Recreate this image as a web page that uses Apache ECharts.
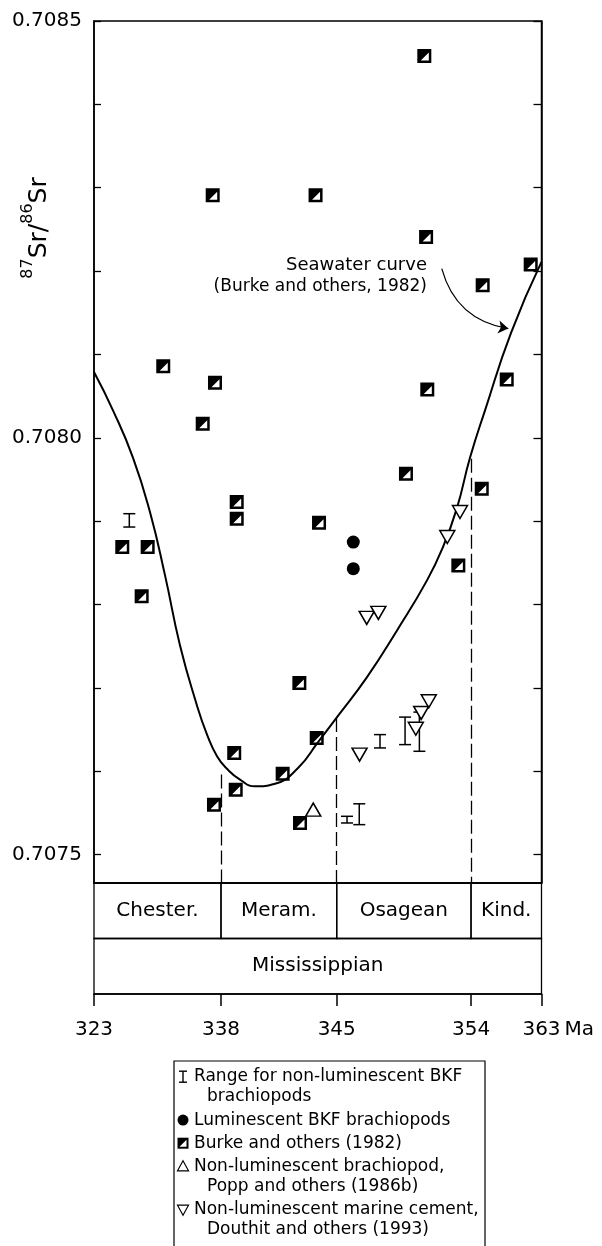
<!DOCTYPE html>
<html>
<head>
<meta charset="utf-8">
<script src="https://cdn.jsdelivr.net/npm/echarts@6/dist/echarts.min.js"></script>
<style>
  html, body { margin: 0; padding: 0; background: #fff; }
  #chart { width: 602px; height: 1246px; }
</style>
</head>
<body>
<div id="chart"></div>
<script>
// stage boundaries (Ma) and where they sit along the axis, 0..100 (the figure is not to scale)
const stageEdges = [323, 338, 345, 354, 363]
const stagePos = [0, 28.38, 54.24, 84.25, 100]
const stageNames = ['Chester.', 'Meram.', 'Osagean', 'Kind.']
const periodName = 'Mississippian'

const yTicks = [0.7075, 0.7076, 0.7077, 0.7078, 0.7079, 0.7080, 0.7081, 0.7082, 0.7083, 0.7084, 0.7085]
const yLabels = [0.7075, 0.7080, 0.7085]
const yMin = 0.707466
const yMax = 0.7085

// [age Ma, 87Sr/86Sr]
const seawaterCurve = [
  [323.0, 0.708079], [325.24, 0.708033], [327.61, 0.707976], [329.61, 0.707911],
  [331.39, 0.707835], [333.16, 0.707751], [335.16, 0.707679], [336.35, 0.707644],
  [337.53, 0.707618], [338.36, 0.707603], [339.15, 0.707590], [340.06, 0.707582],
  [341.27, 0.707585], [342.66, 0.707604], [343.87, 0.707635], [345.02, 0.707665],
  [347.03, 0.707713], [349.04, 0.707769], [351.05, 0.707829], [352.12, 0.707869],
  [353.06, 0.707916], [353.93, 0.707976], [355.79, 0.708033], [359.11, 0.708126],
  [363.0, 0.708211]
]

const burke = [
  [350.87, 0.708458], [337.02, 0.708291], [343.72, 0.708291], [350.99, 0.708241],
  [361.62, 0.708208], [355.49, 0.708183], [331.18, 0.708086], [337.29, 0.708066],
  [358.56, 0.708070], [351.07, 0.708058], [335.84, 0.708017], [349.64, 0.707957],
  [355.37, 0.707939], [338.95, 0.707923], [338.95, 0.707903], [343.93, 0.707898],
  [326.34, 0.707869], [329.34, 0.707869], [353.15, 0.707847], [328.63, 0.707810],
  [342.74, 0.707706], [343.79, 0.707640], [338.80, 0.707622], [341.73, 0.707597],
  [338.89, 0.707578], [337.17, 0.707560], [342.78, 0.707538]
]

const luminescent = [[346.11, 0.707875], [346.11, 0.707843]]

const popp = [[343.58, 0.707554]]

const douthit = [
  [347.01, 0.707784], [347.79, 0.707790], [346.53, 0.707620], [351.17, 0.707684],
  [350.66, 0.707670], [350.30, 0.707651], [353.26, 0.707911], [352.41, 0.707881]
]

// [age Ma, low, high]
const bkfRanges = [
  [347.90, 0.707628, 0.707644], [349.58, 0.707632, 0.707665], [350.54, 0.707624, 0.707671],
  [346.51, 0.707536, 0.707561], [345.69, 0.707538, 0.707546], [327.17, 0.707893, 0.707909]
]

const boundaryAge = [338, 345, 354]
const boundaryTop = [0.707596, 0.707664, 0.707975]

const arrowFrom = [352.04, 0.708203]
const arrowTo = [358.76, 0.708131]

function toAxis(ma) {
  let i = 0
  while (i < stageEdges.length - 2 && ma > stageEdges[i + 1]) i++
  const t = (ma - stageEdges[i]) / (stageEdges[i + 1] - stageEdges[i])
  return stagePos[i] + t * (stagePos[i + 1] - stagePos[i])
}
const pt = p => [toAxis(p[0]), p[1]]

const font = 'DejaVu Sans'
const halfSquare = 'path://M0 0L14 0L14 14L0 14Z M11.5 3.5L3.5 11.5L11.5 11.5Z'
const downTri = 'path://M0 0L14 0L7 12Z'
const upTri = 'path://M7 0L14 12L0 12Z'

// stage table cells: [start, end, row]
const cells = stageNames.map((n, i) => ({ name: n, value: [stagePos[i], stagePos[i + 1], 1] }))
cells.push({ name: periodName, value: [0, 100, 0] })

// legend drawn by hand so the icon sits on the first line of each entry
const legendItems = [
  { icon: 'range', lines: ['Range for non-luminescent BKF', 'brachiopods'] },
  { icon: 'circle', lines: ['Luminescent BKF brachiopods'] },
  { icon: 'burke', lines: ['Burke and others (1982)'] },
  { icon: 'up', lines: ['Non-luminescent brachiopod,', 'Popp and others (1986b)'] },
  { icon: 'down', lines: ['Non-luminescent marine cement,', 'Douthit and others (1993)'] }
]

function legendGraphic() {
  const left = 174, top = 1061, right = 485
  const iconX = 183, textX = 194, indentX = 207
  const lineH = 20.3
  const stroke = { stroke: '#000', lineWidth: 1.4 }
  const children = [{
    type: 'rect', shape: { x: left, y: top, width: right - left, height: 200 },
    style: { fill: '#fff', stroke: '#000', lineWidth: 1.2 }
  }]
  let y = 1076.7
  legendItems.forEach(item => {
    const s = 5.5
    if (item.icon === 'range') {
      children.push(
        { type: 'line', shape: { x1: iconX, y1: y - s, x2: iconX, y2: y + s }, style: stroke },
        { type: 'line', shape: { x1: iconX - 4, y1: y - s, x2: iconX + 4, y2: y - s }, style: stroke },
        { type: 'line', shape: { x1: iconX - 4, y1: y + s, x2: iconX + 4, y2: y + s }, style: stroke }
      )
    } else if (item.icon === 'circle') {
      children.push({ type: 'circle', shape: { cx: iconX, cy: y, r: s }, style: { fill: '#000' } })
    } else if (item.icon === 'burke') {
      children.push(
        { type: 'rect', shape: { x: iconX - s, y: y - s, width: 2 * s, height: 2 * s }, style: { fill: '#000' } },
        { type: 'polygon', shape: { points: [[iconX + s - 2, y - s + 2], [iconX - s + 2, y + s - 2], [iconX + s - 2, y + s - 2]] }, style: { fill: '#fff' } }
      )
    } else if (item.icon === 'up') {
      children.push({ type: 'polygon', shape: { points: [[iconX, y - s], [iconX + s, y + s - 1], [iconX - s, y + s - 1]] }, style: { fill: '#fff', stroke: '#000', lineWidth: 1.2 } })
    } else {
      children.push({ type: 'polygon', shape: { points: [[iconX - s, y - s + 1], [iconX + s, y - s + 1], [iconX, y + s]] }, style: { fill: '#fff', stroke: '#000', lineWidth: 1.2 } })
    }
    item.lines.forEach((ln, k) => {
      children.push({
        type: 'text', x: k === 0 ? textX : indentX, y: y + k * lineH,
        style: { text: ln, fontFamily: font, fontSize: 17, fill: '#000', verticalAlign: 'middle' }
      })
    })
    y += item.lines.length * lineH + 2.8
  })
  return { type: 'group', children }
}

const chart = echarts.init(document.getElementById('chart'))
chart.setOption({
  animation: false,
  backgroundColor: '#fff',
  grid: [
    { left: 94, right: 60.5, top: 21, bottom: 363, show: true, borderColor: '#000', borderWidth: 1.5 },
    { left: 94, right: 60.5, top: 883, bottom: 252 }
  ],
  xAxis: [
    {
      type: 'value', gridIndex: 0, min: 0, max: 100,
      axisLine: { lineStyle: { color: '#000', width: 1.5 } },
      axisTick: { show: false }, axisLabel: { show: false }, splitLine: { show: false }
    },
    {
      type: 'value', gridIndex: 1, min: 0, max: 100,
      axisLine: { lineStyle: { color: '#000', width: 1.5 } },
      axisTick: { customValues: stagePos, length: 12, lineStyle: { color: '#000', width: 1.5 } },
      axisLabel: {
        customValues: stagePos, margin: 26, color: '#000', fontFamily: font, fontSize: 20,
        formatter: v => String(stageEdges[stagePos.indexOf(v)])
      },
      splitLine: { show: false },
      name: 'Ma', nameLocation: 'end', nameGap: 21,
      nameTextStyle: { color: '#000', fontFamily: font, fontSize: 20, verticalAlign: 'top', padding: [26, 0, 0, 0] }
    }
  ],
  yAxis: [
    {
      type: 'value', gridIndex: 0, position: 'left', min: yMin, max: yMax,
      axisLine: { show: true, lineStyle: { color: '#000', width: 1.5 } },
      axisTick: { inside: true, length: 7, customValues: yTicks, lineStyle: { color: '#000', width: 1.3 } },
      axisLabel: {
        customValues: yLabels, margin: 12, color: '#000', fontFamily: font, fontSize: 20,
        formatter: v => v.toFixed(4)
      },
      splitLine: { show: false }
    },
    {
      type: 'value', gridIndex: 0, position: 'right', min: yMin, max: yMax,
      axisLine: { show: true, lineStyle: { color: '#000', width: 1.5 } },
      axisTick: { inside: true, length: 8, customValues: yTicks, lineStyle: { color: '#000', width: 1.3 } },
      axisLabel: { show: false },
      splitLine: { show: false }
    },
    { type: 'value', gridIndex: 1, min: 0, max: 2, show: false }
  ],
  series: [
    {
      name: 'Seawater curve', type: 'line', xAxisIndex: 0, yAxisIndex: 0,
      data: seawaterCurve.map(pt), smooth: 0.5, showSymbol: false,
      lineStyle: { color: '#000', width: 2 }, z: 2
    },
    {
      type: 'lines', coordinateSystem: 'cartesian2d', xAxisIndex: 0, yAxisIndex: 0,
      data: boundaryAge.map((a, i) => ({ coords: [[toAxis(a), boundaryTop[i]], [toAxis(a), yMin]] })),
      lineStyle: { color: '#000', width: 1.3, type: [14, 5], opacity: 1 }, symbol: 'none', z: 1
    },
    {
      type: 'lines', coordinateSystem: 'cartesian2d', xAxisIndex: 0, yAxisIndex: 0,
      data: [{ coords: [pt(arrowFrom), pt(arrowTo)] }],
      lineStyle: { color: '#000', width: 1.2, curveness: -0.32, opacity: 1 },
      symbol: ['none', 'arrow'], symbolSize: 10, z: 3
    },
    {
      name: 'Range for non-luminescent BKF brachiopods', type: 'custom', xAxisIndex: 0, yAxisIndex: 0,
      data: bkfRanges.map(r => [toAxis(r[0]), r[1], r[2]]),
      encode: { x: 0, y: [1, 2] },
      renderItem: (params, api) => {
        const hi = api.coord([api.value(0), api.value(2)])
        const lo = api.coord([api.value(0), api.value(1)])
        const w = 6
        const style = { stroke: '#000', lineWidth: 1.5 }
        return {
          type: 'group',
          children: [
            { type: 'line', shape: { x1: hi[0], y1: hi[1], x2: lo[0], y2: lo[1] }, style },
            { type: 'line', shape: { x1: hi[0] - w, y1: hi[1], x2: hi[0] + w, y2: hi[1] }, style },
            { type: 'line', shape: { x1: lo[0] - w, y1: lo[1], x2: lo[0] + w, y2: lo[1] }, style }
          ]
        }
      },
      z: 4
    },
    {
      name: 'Luminescent BKF brachiopods', type: 'scatter', xAxisIndex: 0, yAxisIndex: 0,
      data: luminescent.map(pt), symbol: 'circle', symbolSize: 13,
      itemStyle: { color: '#000', opacity: 1 }, z: 4
    },
    {
      name: 'Burke and others (1982)', type: 'scatter', xAxisIndex: 0, yAxisIndex: 0,
      data: burke.map(pt), symbol: halfSquare, symbolSize: 14,
      itemStyle: { color: '#000', opacity: 1 }, z: 4
    },
    {
      name: 'Non-luminescent brachiopod, Popp and others (1986b)', type: 'scatter', xAxisIndex: 0, yAxisIndex: 0,
      data: popp.map(pt), symbol: upTri, symbolSize: [15, 13],
      itemStyle: { color: '#fff', borderColor: '#000', borderWidth: 1.5, opacity: 1 }, z: 5
    },
    {
      name: 'Non-luminescent marine cement, Douthit and others (1993)', type: 'scatter', xAxisIndex: 0, yAxisIndex: 0,
      data: douthit.map(pt), symbol: downTri, symbolSize: [15, 13],
      itemStyle: { color: '#fff', borderColor: '#000', borderWidth: 1.5, opacity: 1 }, z: 5
    },
    {
      type: 'custom', xAxisIndex: 1, yAxisIndex: 2,
      data: cells,
      encode: { x: [0, 1], y: 2 },
      renderItem: (params, api) => {
        const a = api.coord([api.value(0), api.value(2) + 1])
        const b = api.coord([api.value(1), api.value(2)])
        return {
          type: 'rect',
          shape: { x: a[0], y: a[1], width: b[0] - a[0], height: b[1] - a[1] },
          style: { fill: 'transparent', stroke: '#000', lineWidth: 1.3 },
          textContent: { style: { text: cells[params.dataIndex].name, fontFamily: font, fontSize: 20, fill: '#000' } },
          textConfig: { position: 'inside' }
        }
      }
    }
  ],
  graphic: [
    {
      type: 'text', x: 36, y: 228, rotation: Math.PI / 2,
      style: {
        text: '{sup|87}{main|Sr/}{sup|86}{main|Sr}',
        align: 'center', verticalAlign: 'middle', fill: '#000',
        rich: {
          main: { fontFamily: font, fontSize: 25, lineHeight: 32, verticalAlign: 'bottom' },
          sup: { fontFamily: font, fontSize: 16, lineHeight: 32, verticalAlign: 'top' }
        }
      }
    },
    {
      type: 'text', x: 427, y: 265,
      style: { text: 'Seawater curve', align: 'right', verticalAlign: 'middle', fontFamily: font, fontSize: 18, fill: '#000' }
    },
    {
      type: 'text', x: 427, y: 287,
      style: { text: '(Burke and others, 1982)', align: 'right', verticalAlign: 'middle', fontFamily: font, fontSize: 17, fill: '#000' }
    },
    legendGraphic()
  ]
})
</script>
</body>
</html>
